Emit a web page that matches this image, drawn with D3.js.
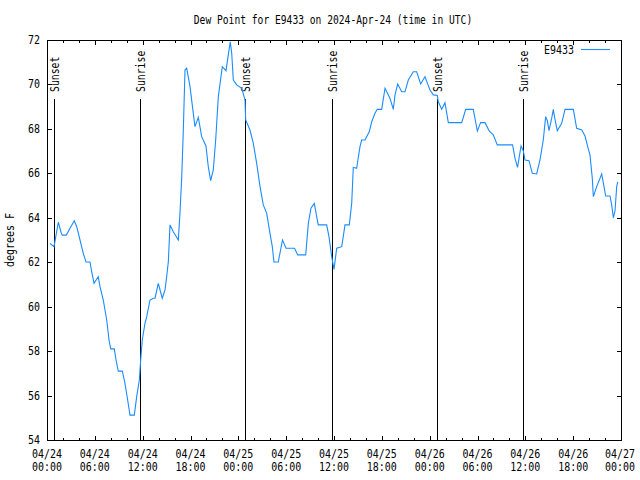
<!DOCTYPE html>
<html>
<head>
<meta charset="utf-8">
<script src="https://cdn.jsdelivr.net/npm/d3@7"></script>
<style>
  html, body { margin: 0; padding: 0; background: #fff; }
  svg { display: block; }
  text { font-family: "DejaVu Sans Mono", "Liberation Mono", monospace; fill: #000; }
</style>
</head>
<body>
<script>
// ---- data ----
const chartTitle = "Dew Point for E9433 on 2024-Apr-24 (time in UTC)";
const seriesName = "E9433";
const yLabel = "degrees F";
const startTime = "2024-04-24T00:00:00Z";
const endTime = "2024-04-27T00:00:00Z";
// hours since 2024-04-24 00:00 UTC
const hours = [0.38,0.88,1.42,1.76,1.92,2.42,2.89,3.42,3.73,4.14,4.55,4.89,5.39,5.61,5.90,6.43,6.65,7.06,7.49,7.78,
  7.99,8.44,8.66,8.94,9.45,9.78,10.12,10.41,10.95,11.25,11.58,11.75,11.95,12.29,12.51,12.92,13.33,13.55,13.96,14.46,
  14.80,15.01,15.22,15.43,15.84,16.47,16.68,16.90,17.10,17.31,17.52,17.94,18.35,18.56,18.98,19.40,19.94,20.23,20.53,20.86,
  21.16,21.49,21.99,22.45,22.74,22.99,23.17,23.37,23.80,24.42,24.84,24.92,25.46,25.88,26.30,26.72,27.13,27.56,27.97,28.26,
  28.47,29.01,29.54,29.98,31.05,31.45,32.45,32.78,33.11,33.53,33.83,34.03,35.08,35.37,35.71,36.00,36.34,36.97,37.38,37.92,
  38.22,38.42,38.84,39.26,39.47,39.89,40.42,40.73,41.14,41.43,41.98,42.40,43.02,43.44,43.65,43.99,44.49,44.90,45.32,45.95,
  46.37,46.87,47.41,48.04,48.46,48.96,49.08,49.51,49.92,50.34,52.02,52.52,53.47,53.98,54.39,54.94,55.48,55.98,56.48,58.40,
  58.70,59.02,59.46,59.74,59.96,60.46,60.87,61.42,61.84,62.25,62.55,62.76,62.97,63.31,63.51,63.72,64.01,64.56,64.98,66.02,
  66.44,67.07,67.49,67.82,68.11,68.40,68.53,68.95,69.58,69.90,70.08,70.62,70.83,71.04,71.25,71.46,71.59];
const dewPoint = [62.85,62.70,63.80,63.35,63.22,63.22,63.53,63.87,63.60,63.00,62.40,62.01,62.01,61.57,61.05,61.35,60.90,60.30,59.40,58.50,
  58.10,58.10,57.60,57.10,57.10,56.55,55.80,55.12,55.12,55.95,56.70,57.60,58.50,59.25,59.55,60.30,60.38,60.38,61.05,60.38,
  60.75,61.35,62.02,63.68,63.37,63.00,64.20,65.85,67.95,70.65,70.73,69.90,68.70,68.10,68.52,67.65,67.23,66.30,65.67,66.15,
  67.50,69.45,70.80,70.62,71.33,71.92,71.40,70.20,69.98,69.83,69.30,68.40,67.95,67.35,66.45,65.40,64.58,64.20,63.30,62.70,
  62.01,62.01,63.00,62.63,62.63,62.33,62.33,63.75,64.43,64.65,64.05,63.68,63.68,63.15,62.25,61.68,62.63,62.70,63.68,63.68,
  64.65,66.27,66.23,67.20,67.50,67.50,67.87,68.32,68.70,68.88,68.88,69.83,69.38,68.88,69.53,70.02,69.67,69.67,70.20,70.57,
  70.57,70.02,70.35,69.75,69.53,69.50,69.22,68.88,69.18,68.28,68.28,68.88,68.88,67.90,68.28,68.28,67.90,67.73,67.28,67.28,
  66.68,66.27,67.23,67.02,66.60,66.57,66.00,65.97,66.60,67.50,68.55,68.37,67.92,68.48,68.88,68.43,67.92,68.25,68.88,68.88,
  68.03,67.95,67.68,67.20,66.83,65.78,64.95,65.40,65.97,65.33,64.98,64.98,64.58,64.00,64.32,65.40,65.62];
const sunEventNames = ["Sunset","Sunrise","Sunset","Sunrise","Sunset","Sunrise"];
const sunEventTimes = ["2024-04-24T00:55:00Z","2024-04-24T11:42:00Z","2024-04-25T00:53:00Z",
  "2024-04-25T11:47:00Z","2024-04-26T00:58:00Z","2024-04-26T11:45:00Z"];
const yTicks = [54,56,58,60,62,64,66,68,70,72];

// ---- layout ----
const W = 640, H = 480;
const M = {left: 47, right: 621, top: 40, bottom: 440};
const lineColor = "#1a8cff";
const CW = 6; // monospace character width

const svg = d3.select("body").append("svg").attr("width", W).attr("height", H);

const t0 = new Date(startTime), t1 = new Date(endTime);
const x = d3.scaleUtc().domain([t0, t1]).range([M.left, M.right]);
const y = d3.scaleLinear().domain([54, 72]).range([M.bottom, M.top]);

function label(sel, str, px, py, anchor, cw) {
  const c = cw || CW;
  return sel.append("text")
    .attr("x", px).attr("y", py)
    .attr("text-anchor", anchor || "middle")
    .attr("dominant-baseline", "central")
    .attr("font-size", 12)
    .attr("textLength", str.length * c)
    .attr("lengthAdjust", "spacingAndGlyphs")
    .text(str);
}

// axes (ticks inward on all sides)
const major = d3.utcHour.every(6), minor = d3.utcHour.every(2);
const axStyle = g => { g.select(".domain").remove(); g.selectAll("line").attr("stroke", "#000").attr("shape-rendering", "crispEdges"); g.selectAll("text").remove(); };

svg.append("g").attr("transform", `translate(0,${M.bottom})`)
  .call(d3.axisBottom(x).ticks(minor).tickSizeInner(-2.5).tickSizeOuter(0).tickFormat("")).call(axStyle);
svg.append("g").attr("transform", `translate(0,${M.bottom})`)
  .call(d3.axisBottom(x).ticks(major).tickSizeInner(-4.5).tickSizeOuter(0).tickFormat("")).call(axStyle);
svg.append("g").attr("transform", `translate(0,${M.top})`)
  .call(d3.axisTop(x).ticks(minor).tickSizeInner(-2.5).tickSizeOuter(0).tickFormat("")).call(axStyle);
svg.append("g").attr("transform", `translate(0,${M.top})`)
  .call(d3.axisTop(x).ticks(major).tickSizeInner(-4.5).tickSizeOuter(0).tickFormat("")).call(axStyle);
svg.append("g").attr("transform", `translate(${M.left},0)`)
  .call(d3.axisLeft(y).tickValues(yTicks).tickSizeInner(-4.5).tickSizeOuter(0).tickFormat("")).call(axStyle);
svg.append("g").attr("transform", `translate(${M.right},0)`)
  .call(d3.axisRight(y).tickValues(yTicks).tickSizeInner(-4.5).tickSizeOuter(0).tickFormat("")).call(axStyle);

// tick labels
const fmtDate = d3.utcFormat("%m/%d"), fmtTime = d3.utcFormat("%H:%M");
x.ticks(major).forEach(d => {
  const xp = Math.min(x(d), 620);
  label(svg, fmtDate(d), xp, 454, "middle");
  label(svg, fmtTime(d), xp, 467, "middle");
});
yTicks.forEach(v => label(svg, String(v), 40, y(v), "end"));

// sun event lines
const sunG = svg.append("g");
sunEventTimes.forEach((s, i) => {
  const d = new Date(s);
  const xp = Math.round(x(d)) + 0.5;
  sunG.append("line").attr("x1", xp).attr("x2", xp).attr("y1", 99).attr("y2", M.bottom)
    .attr("stroke", "#000").attr("stroke-width", 1).attr("shape-rendering", "crispEdges");
  const name = sunEventNames[i];
  sunG.append("text")
    .attr("transform", `translate(${xp + 4.5},92) rotate(-90)`)
    .attr("text-anchor", "start")
    .attr("font-size", 12)
    .attr("textLength", name.length * 5.9)
    .attr("lengthAdjust", "spacingAndGlyphs")
    .text(name);
});

// data line
const pts = hours.map((h, i) => ({t: new Date(t0.getTime() + h * 3600e3), v: dewPoint[i]}));
svg.append("path").datum(pts)
  .attr("fill", "none").attr("stroke", lineColor).attr("stroke-width", 1.1)
  .attr("d", d3.line().x(d => x(d.t)).y(d => y(d.v)));

// border
svg.append("rect").attr("x", M.left + 0.5).attr("y", M.top + 0.5)
  .attr("width", M.right - M.left).attr("height", M.bottom - M.top)
  .attr("fill", "none").attr("stroke", "#000").attr("shape-rendering", "crispEdges");

// legend
label(svg, seriesName, 574, 50, "end");
svg.append("line").attr("x1", 581).attr("x2", 610).attr("y1", 49.5).attr("y2", 49.5)
  .attr("stroke", lineColor).attr("stroke-width", 1.1);

// title & y label
label(svg, chartTitle, 333, 20, "middle", 5.8);
svg.append("text")
  .attr("transform", `translate(10,240) rotate(-90)`)
  .attr("text-anchor", "middle").attr("dominant-baseline", "central")
  .attr("font-size", 12)
  .attr("textLength", yLabel.length * CW)
  .attr("lengthAdjust", "spacingAndGlyphs")
  .text(yLabel);
</script>
</body>
</html>
